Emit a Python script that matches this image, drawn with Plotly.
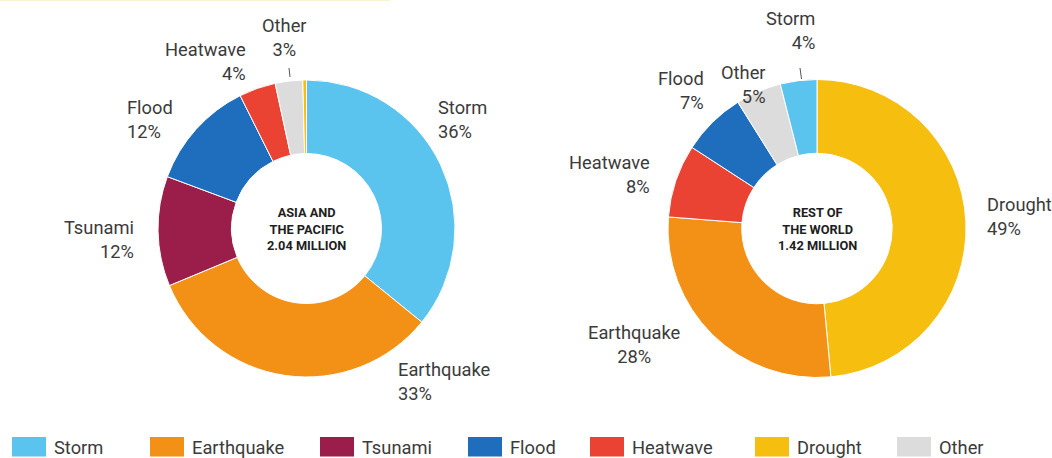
import plotly.graph_objects as go

W, H = 1052, 458

# ---- data ----
categories = ["Storm", "Earthquake", "Tsunami", "Flood", "Heatwave", "Drought", "Other"]
colors = {"Storm": "#5BC4EE", "Earthquake": "#F39117", "Tsunami": "#9B1D4A",
          "Flood": "#1F6EBE", "Heatwave": "#EA4334", "Drought": "#F6BE0E", "Other": "#DCDCDC"}

asia_labels = ["Storm", "Earthquake", "Tsunami", "Flood", "Heatwave", "Other", "Drought"]
asia_values = [36, 33, 12, 12, 4, 3, 0.4]
asia_title = "ASIA AND<br>THE PACIFIC<br>2.04 MILLION"

row_labels = ["Drought", "Earthquake", "Heatwave", "Flood", "Other", "Storm"]
row_values = [49, 28, 8, 7, 5, 4]
row_title = "REST OF<br>THE WORLD<br>1.42 MILLION"

# ---- layout helpers (pixel positions) ----
def px(x):
    return x / W

def py(y):
    return 1 - y / H

TEXT = "#3b3b3b"
FONT = "Roboto"
LABEL_SIZE = 18.3

fig = go.Figure()

def add_donut(labels, values, cx, cy, r, title):
    fig.add_trace(go.Pie(
        labels=labels, values=values, sort=False, direction="clockwise", rotation=0,
        hole=0.505, textinfo="none", hoverinfo="label+value",
        marker=dict(colors=[colors[l] for l in labels], line=dict(color="white", width=1)),
        domain=dict(x=[px(cx - r), px(cx + r)], y=[py(cy + r), py(cy - r)]),
        showlegend=False,
    ))
    fig.add_annotation(x=px(cx), y=py(cy), xref="paper", yref="paper", text="<b>" + title + "</b>",
                       showarrow=False, align="center", xanchor="center", yanchor="middle",
                       font=dict(family=FONT, size=12.8, color="#1e1e1e"))

add_donut(asia_labels, asia_values, 306.5, 228.5, 148.5, asia_title)
add_donut(row_labels, row_values, 817, 228.5, 149, row_title)

# label positions: (x px, y center px, anchor)
asia_label_pos = {"Storm": (436, 119, "left"), "Earthquake": (396, 381, "left"),
                  "Tsunami": (136, 239, "right"), "Flood": (125, 120, "left"),
                  "Heatwave": (248, 62, "right"), "Other": (284.5, 37, "center")}
row_label_pos = {"Storm": (817, 30, "right"), "Other": (768, 85, "right"),
                 "Flood": (706, 91, "right"), "Heatwave": (652, 174, "right"),
                 "Drought": (985, 216, "left"), "Earthquake": (634, 344, "center")}

def add_labels(labels, values, pos):
    for lab, val in zip(labels, values):
        if lab not in pos:
            continue
        x, y, anc = pos[lab]
        fig.add_annotation(x=px(x), y=py(y), xref="paper", yref="paper",
                           text=f"{lab}<br>{val:g}%", showarrow=False, align=anc,
                           xanchor=anc, yanchor="middle",
                           font=dict(family=FONT, size=LABEL_SIZE, color=TEXT))

add_labels(asia_labels, asia_values, asia_label_pos)
add_labels(row_labels, row_values, row_label_pos)

# leader lines for small slices
leaders = [((289, 68), (290, 77)), ((800, 68), (801.5, 79))]
for (x0, y0), (x1, y1) in leaders:
    fig.add_shape(type="line", xref="paper", yref="paper", x0=px(x0), y0=py(y0), x1=px(x1), y1=py(y1),
                  line=dict(color="#555555", width=1))

# faint top rule
fig.add_shape(type="line", xref="paper", yref="paper", x0=0, x1=px(390), y0=py(0.5), y1=py(0.5),
              line=dict(color="rgba(246,190,14,0.18)", width=1))

# custom legend
legend_x = [12, 150, 320, 468, 590, 755, 897]
for cat, lx in zip(categories, legend_x):
    fig.add_shape(type="rect", xref="paper", yref="paper", x0=px(lx), x1=px(lx + 34),
                  y0=py(456.5), y1=py(437), fillcolor=colors[cat], line=dict(width=0))
    fig.add_annotation(x=px(lx + 40), y=py(447), xref="paper", yref="paper", text=cat,
                       showarrow=False, xanchor="left", yanchor="middle",
                       font=dict(family=FONT, size=LABEL_SIZE, color=TEXT))

fig.update_layout(width=W, height=H, margin=dict(l=0, r=0, t=0, b=0),
                  paper_bgcolor="white", plot_bgcolor="white", showlegend=False)

fig.write_html("out.html")
